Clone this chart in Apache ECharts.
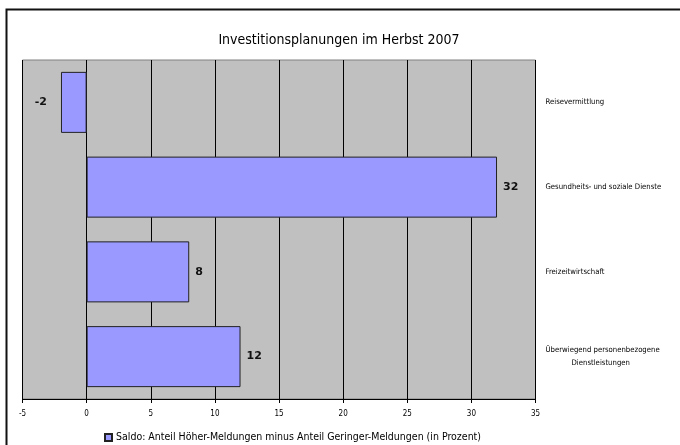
<!DOCTYPE html>
<html>
<head>
<meta charset="utf-8">
<script src="https://cdn.jsdelivr.net/npm/echarts@6/dist/echarts.min.js"></script>
<style>
    html, body { margin: 0; padding: 0; background: #fff; }
    #chart { width: 680px; height: 445px; }
</style>
</head>
<body>
<div id="chart"></div>
<script>
// data, bottom to top as drawn by the category axis
var categories = [
    'Überwiegend personenbezogene\nDienstleistungen',
    'Freizeitwirtschaft',
    'Gesundheits- und soziale Dienste',
    'Reisevermittlung'
];
var saldo = [12, 8, 32, -2];
var seriesName = 'Saldo: Anteil Höher-Meldungen minus Anteil Geringer-Meldungen (in Prozent)';
var chartTitle = 'Investitionsplanungen im Herbst 2007';

var condensed = "'DejaVu Sans Condensed', 'Liberation Sans Narrow', sans-serif";

var myChart = echarts.init(document.getElementById('chart'));

var barData = saldo.map(function (v) {
    return {
        value: v,
        label: v < 0 ? { position: 'left', distance: 14 } : { position: 'right', distance: 6 }
    };
});

var option = {
    backgroundColor: '#fff',
    animation: false,
    graphic: [{
        type: 'rect',
        shape: { x: 6.5, y: 9.5, width: 700, height: 460 },
        style: { fill: 'none', stroke: '#111', lineWidth: 2 },
        z: 100
    }],
    title: {
        text: chartTitle,
        left: 334,
        top: 28,
        textAlign: 'center',
        textStyle: {
            fontFamily: condensed,
            fontSize: 14,
            fontWeight: 'normal',
            color: '#000'
        }
    },
    legend: {
        data: [seriesName],
        left: 99,
        top: 427,
        itemWidth: 7,
        itemHeight: 7,
        itemGap: 4,
        icon: 'rect',
        textStyle: {
            fontFamily: condensed,
            fontSize: 10.5,
            color: '#000',
            padding: [0, 0, 0, -1]
        }
    },
    grid: {
        left: 22.5,
        right: 144.5,
        top: 60,
        bottom: 46,
        containLabel: false,
        outerBoundsMode: 'none',
        show: true,
        backgroundColor: '#C0C0C0',
        borderColor: '#808080',
        borderWidth: 1
    },
    xAxis: {
        type: 'value',
        min: -5,
        max: 35,
        interval: 5,
        axisLine: { show: true, lineStyle: { color: '#000', width: 1 } },
        axisTick: { show: true, length: 4, lineStyle: { color: '#000' } },
        axisLabel: {
            margin: 11,
            fontFamily: condensed,
            fontSize: 8,
            color: '#000'
        },
        splitLine: { show: true, lineStyle: { color: '#000', width: 1 } }
    },
    yAxis: {
        type: 'category',
        position: 'right',
        data: categories,
        axisLine: { show: false },
        axisTick: { show: false },
        axisLabel: {
            margin: 10,
            align: 'left',
            fontFamily: condensed,
            fontSize: 7.7,
            color: '#000',
            lineHeight: 13,
            formatter: function (val) {
                var parts = val.split('\n');
                if (parts.length > 1) {
                    return parts[0] + '\n{ind|' + parts[1] + '}';
                }
                return val;
            },
            rich: {
                ind: {
                    fontFamily: condensed,
                    fontSize: 7.7,
                    color: '#000',
                    padding: [0, 0, 0, 26]
                }
            }
        }
    },
    series: [{
        name: seriesName,
        type: 'bar',
        data: barData,
        barCategoryGap: '28%',
        itemStyle: {
            color: '#9999FF',
            borderColor: '#222',
            borderWidth: 1
        },
        label: {
            show: true,
            fontFamily: "'DejaVu Sans', sans-serif",
            fontSize: 11,
            fontWeight: 'bold',
            color: '#111'
        }
    }]
};

myChart.setOption(option);
</script>
</body>
</html>
